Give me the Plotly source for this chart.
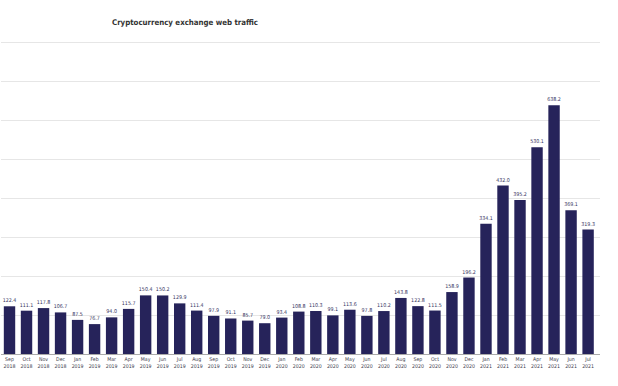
import plotly.graph_objects as go

months = ["Sep", "Oct", "Nov", "Dec", "Jan", "Feb", "Mar", "Apr", "May", "Jun", "Jul", "Aug",
          "Sep", "Oct", "Nov", "Dec", "Jan", "Feb", "Mar", "Apr", "May", "Jun", "Jul", "Aug",
          "Sep", "Oct", "Nov", "Dec", "Jan", "Feb", "Mar", "Apr", "May", "Jun", "Jul"]
years = ["2018"] * 4 + ["2019"] * 12 + ["2020"] * 12 + ["2021"] * 7
visits = [122.4, 111.1, 117.8, 106.7, 87.5, 76.7, 94.0, 115.7, 150.4, 150.2, 129.9, 111.4,
          97.9, 91.1, 85.7, 79.0, 93.4, 108.8, 110.3, 99.1, 113.6, 97.8, 110.2, 143.8,
          122.8, 111.5, 158.9, 196.2, 334.1, 432.0, 395.2, 530.1, 638.2, 369.1, 319.3]
categories = [f"{m}<br>{y}" for m, y in zip(months, years)]

fig = go.Figure(go.Bar(
    x=categories, y=visits,
    marker=dict(color="#26235a", line=dict(width=0)),
    text=[f"{v:.1f}" for v in visits],
    textposition="outside",
    constraintext="none",
    textfont=dict(size=5.3, color="#34335e", family="DejaVu Sans Condensed"),
    cliponaxis=False,
))

fig.update_layout(
    width=618, height=386,
    margin=dict(l=1, r=18, t=41, b=32, autoexpand=False),
    paper_bgcolor="white", plot_bgcolor="white",
    bargap=0.33,
    showlegend=False,
    title=dict(text="<b>Cryptocurrency exchange web traffic</b>",
               font=dict(family="DejaVu Sans Condensed", size=7.8, color="#333333"),
               x=112 / 618, xanchor="left", xref="container",
               y=1 - 22 / 386, yanchor="middle", yref="container"),
    xaxis=dict(range=[-0.5, 34.7], showgrid=False, showline=True, linecolor="#aaaaaa",
               linewidth=1, ticks="", tickfont=dict(size=5.2, color="#3a3a4a",
               family="DejaVu Sans Condensed"), tickangle=0, fixedrange=True),
    yaxis=dict(range=[0, 803], dtick=100, showgrid=True, gridcolor="#e6e6e6", gridwidth=1,
               showticklabels=False, zeroline=False, fixedrange=True),
)

fig.write_html("out.html", post_script="document.body.style.margin='0';",
               config={"displayModeBar": False})
